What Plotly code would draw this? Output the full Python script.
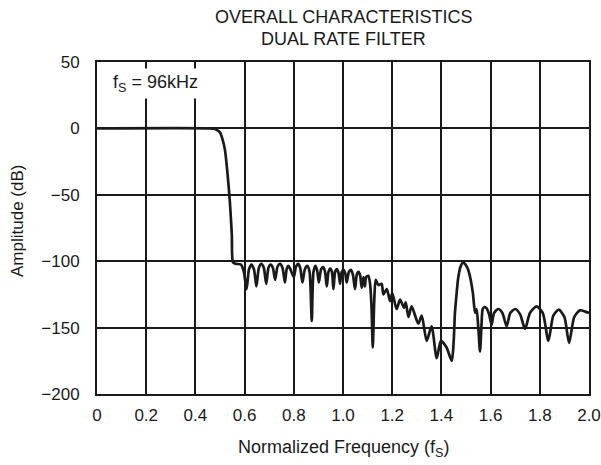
import plotly.graph_objects as go

# Normalized frequency (fS) and amplitude (dB)
freq = [0.00, 0.46, 0.475, 0.49, 0.50, 0.51, 0.52, 0.53, 0.54, 0.548, 0.553, 0.565, 0.585, 0.597,
        0.608, 0.618, 0.628, 0.638, 0.648, 0.658, 0.668, 0.678, 0.688, 0.697, 0.706, 0.715, 0.724,
        0.734, 0.744, 0.754, 0.764, 0.771, 0.778, 0.786, 0.80, 0.809, 0.818, 0.826, 0.835, 0.845,
        0.855, 0.864, 0.873, 0.880, 0.888, 0.895, 0.902, 0.911, 0.919, 0.927, 0.934, 0.941, 0.948,
        0.955, 0.961, 0.968, 0.975, 0.982, 0.988, 0.995, 1.002, 1.009, 1.015, 1.024, 1.032, 1.040,
        1.049, 1.056, 1.063, 1.070, 1.076, 1.083, 1.089, 1.094, 1.103, 1.110, 1.116, 1.121, 1.127,
        1.133, 1.144, 1.157, 1.164, 1.178, 1.191, 1.200, 1.218, 1.232, 1.248, 1.255, 1.266, 1.279,
        1.306, 1.320, 1.340, 1.360, 1.381, 1.398, 1.421, 1.442, 1.450, 1.455, 1.462, 1.468, 1.478,
        1.488, 1.498, 1.508, 1.518, 1.528, 1.537, 1.543, 1.550, 1.557, 1.563, 1.568, 1.576, 1.584,
        1.594, 1.604, 1.614, 1.631, 1.648, 1.665, 1.680, 1.700, 1.720, 1.740, 1.760, 1.787, 1.812,
        1.835, 1.855, 1.877, 1.900, 1.919, 1.940, 1.963, 1.985, 2.000]
amp = [0, 0, -0.3, -1.5, -3, -8, -16, -33, -55, -80, -101, -102, -102.5, -108,
       -121, -106, -102.5, -106, -119, -105, -102, -105, -117, -105, -102.5, -105, -114,
       -104, -102, -105, -116, -106, -103.5, -106, -112, -104, -102, -105, -116, -106,
       -103.5, -108, -145, -108, -103.5, -107, -116, -106, -104.5, -108, -119, -108, -105.5,
       -108, -121, -108, -106, -109, -117, -108, -106.5, -109, -116, -108, -106.5, -110,
       -121, -110, -108, -111, -120, -112, -119, -112, -111, -117, -135, -165, -130,
       -114, -118, -117, -125, -121, -130, -124, -136, -129, -135, -131, -142, -134,
       -147, -141, -160, -149, -173, -160, -165, -175, -160, -139, -124, -113, -104,
       -101, -102.5, -106, -113, -124, -139, -136, -150, -168, -148, -136, -134.5, -135.5,
       -140, -148, -139, -136, -139, -149, -139, -136, -140, -151, -139, -134, -139,
       -160, -141, -136.5, -142, -161.5, -142, -137, -138, -139]

x_ticks = [0, 0.2, 0.4, 0.6, 0.8, 1.0, 1.2, 1.4, 1.6, 1.8, 2.0]
x_labels = ["0", "0.2", "0.4", "0.6", "0.8", "1.0", "1.2", "1.4", "1.6", "1.8", "2.0"]
y_ticks = [50, 0, -50, -100, -150, -200]
y_labels = ["50", "0", "\u221250", "\u2212100", "\u2212150", "\u2212200"]

title_lines = ["OVERALL CHARACTERISTICS", "DUAL RATE FILTER"]

FONT = "Liberation Sans, Arial, sans-serif"
INK = "#1a1a1a"

fig = go.Figure()
fig.add_trace(go.Scatter(
    x=freq, y=amp, mode="lines",
    line=dict(color=INK, width=2.7, shape="spline", smoothing=0.7),
    hoverinfo="skip", showlegend=False,
))

axis_common = dict(
    showgrid=True, gridcolor=INK, gridwidth=1.5,
    showline=True, linecolor=INK, linewidth=2, mirror=True,
    zeroline=False, ticks="", tickfont=dict(family=FONT, size=17, color=INK),
)
fig.update_xaxes(range=[0, 2], tickmode="array", tickvals=x_ticks, ticktext=x_labels,
                 ticklabelstandoff=5, **axis_common)
fig.update_yaxes(range=[-200, 50], tickmode="array", tickvals=y_ticks, ticktext=y_labels,
                 ticklabelstandoff=12, **axis_common)

annotations = []
for i, line in enumerate(title_lines):
    annotations.append(dict(
        text=line, xref="paper", yref="paper", x=0.5, y=1,
        xanchor="center", yanchor="middle", yshift=62 - 17 - 22 * i,
        showarrow=False, font=dict(family=FONT, size=18, color=INK)))
annotations += [
    dict(text="Normalized Frequency (f<sub>S</sub>)", xref="paper", yref="paper",
         x=0.5, y=0, xanchor="center", yanchor="middle", yshift=-54, showarrow=False,
         font=dict(family=FONT, size=18, color=INK)),
    dict(text="Amplitude (dB)", xref="paper", yref="paper", textangle=-90,
         x=0, y=0.5, xanchor="center", yanchor="middle", xshift=-80, yshift=7,
         showarrow=False, font=dict(family=FONT, size=17, color=INK)),
    dict(text="f<sub>S</sub> = 96kHz", xref="paper", yref="paper",
         x=0.025, y=1, xanchor="left", yanchor="top", yshift=-6, showarrow=False,
         bgcolor="white", borderpad=3,
         font=dict(family=FONT, size=18, color=INK)),
]

fig.update_layout(
    width=601, height=465,
    margin=dict(l=97, r=12, t=62, b=71, autoexpand=False),
    paper_bgcolor="white", plot_bgcolor="white",
    font=dict(family=FONT, color=INK),
    annotations=annotations,
)

fig.write_html("out.html", config={"displayModeBar": False},
               post_script="document.body.style.margin='0';document.body.style.overflow='hidden';")
